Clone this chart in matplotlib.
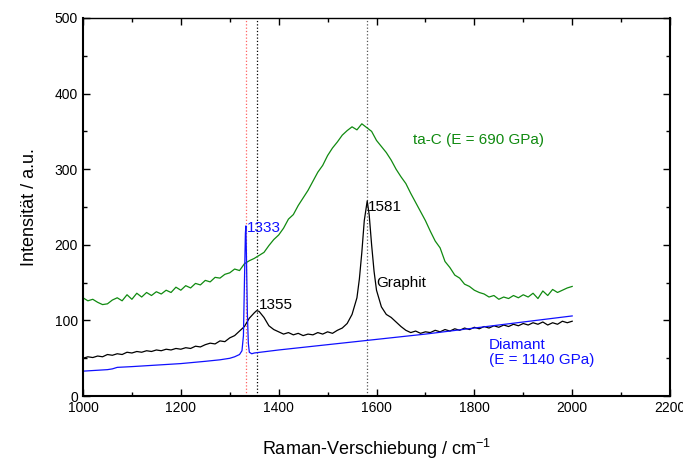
import matplotlib
matplotlib.use("Agg")
from matplotlib import pyplot as plt
from matplotlib.ticker import MultipleLocator

plt.rcParams['font.family'] = ['Liberation Sans', 'DejaVu Sans']
plt.rcParams['mathtext.fontset'] = 'custom'
plt.rcParams['mathtext.rm'] = 'Liberation Sans'
plt.rcParams['mathtext.default'] = 'regular'

# ta-C spectrum (green)
tac_x = [1000, 1010, 1020, 1030, 1040, 1050, 1060, 1070, 1080, 1090,
         1100, 1110, 1120, 1130, 1140, 1150, 1160, 1170, 1180, 1190,
         1200, 1210, 1220, 1230, 1240, 1250, 1260, 1270, 1280, 1290,
         1300, 1310, 1320, 1330, 1340, 1350, 1360, 1370, 1380, 1390,
         1400, 1410, 1420, 1430, 1440, 1450, 1460, 1470, 1480, 1490,
         1500, 1510, 1520, 1530, 1540, 1550, 1560, 1570, 1580, 1590,
         1600, 1610, 1620, 1630, 1640, 1650, 1660, 1670, 1680, 1690,
         1700, 1710, 1720, 1730, 1740, 1750, 1760, 1770, 1780, 1790,
         1800, 1810, 1820, 1830, 1840, 1850, 1860, 1870, 1880, 1890,
         1900, 1910, 1920, 1930, 1940, 1950, 1960, 1970, 1980, 1990, 2000]
tac_y = [130, 126, 128, 124, 121, 122, 127, 130, 126, 134,
         128, 136, 131, 137, 133, 138, 135, 140, 137, 144,
         140, 146, 143, 149, 147, 153, 151, 157, 156, 161,
         163, 168, 166, 175, 179, 182, 186, 190, 199, 207,
         213, 222, 234, 240, 252, 262, 272, 284, 296, 305,
         318, 328, 336, 345, 351, 356, 352, 360, 355, 350,
         338, 330, 322, 312, 300, 290, 281, 268, 256, 244,
         232, 218, 205, 196, 178, 170, 160, 156, 148, 145,
         140, 137, 135, 131, 133, 128, 131, 129, 133, 130,
         134, 131, 136, 129, 139, 133, 141, 137, 140, 143, 145]

# Graphit spectrum (black)
gra_x = [1000, 1010, 1020, 1030, 1040, 1050, 1060, 1070, 1080, 1090,
         1100, 1110, 1120, 1130, 1140, 1150, 1160, 1170, 1180, 1190,
         1200, 1210, 1220, 1230, 1240, 1250, 1260, 1270, 1280, 1290,
         1300, 1310, 1320, 1330, 1340, 1350, 1355, 1360, 1370, 1380,
         1390, 1400, 1410, 1420, 1430, 1440, 1450, 1460, 1470, 1480,
         1490, 1500, 1510, 1520, 1530, 1540, 1550, 1560, 1565, 1570,
         1575, 1581, 1585, 1590, 1595, 1600, 1610, 1620, 1630, 1640,
         1650, 1660, 1670, 1680, 1690, 1700, 1710, 1720, 1730, 1740,
         1750, 1760, 1770, 1780, 1790, 1800, 1810, 1820, 1830, 1840,
         1850, 1860, 1870, 1880, 1890, 1900, 1910, 1920, 1930, 1940,
         1950, 1960, 1970, 1980, 1990, 2000]
gra_y = [50, 52, 51, 53, 52, 55, 54, 56, 55, 58,
         57, 59, 58, 60, 59, 61, 60, 62, 61, 63,
         62, 64, 63, 66, 65, 68, 70, 69, 73, 72,
         77, 80, 86, 92, 103, 110, 113, 112, 104, 93,
         88, 85, 82, 84, 81, 83, 80, 82, 81, 84,
         82, 85, 83, 87, 90, 96, 108, 130, 155, 190,
         232, 258, 240, 200, 165, 140, 118, 108, 104, 98,
         92, 87, 84, 86, 83, 85, 84, 87, 85, 88,
         86, 89, 87, 90, 88, 91, 89, 92, 90, 93,
         91, 94, 92, 95, 93, 96, 94, 97, 95, 98,
         94, 97, 95, 99, 97, 99]

# Diamant spectrum (blue)
dia_x = [1000, 1050, 1060, 1070, 1100, 1150, 1200, 1250, 1280, 1300,
         1310, 1320, 1325, 1328, 1330, 1332, 1333, 1334, 1336, 1338,
         1340, 1345, 1350, 1400, 1500, 1600, 1700, 1800, 1900, 2000]
dia_y = [33, 35, 36, 38, 39, 41, 43, 46, 48, 50,
         52, 55, 60, 80, 150, 215, 225, 190, 110, 70,
         58, 56, 57, 61, 68, 75, 82, 90, 98, 106]

peak_lines = [1333, 1355, 1581]
peak_colors = ['#ff6060', 'black', '#555555']

fig = plt.figure(figsize=(6.83, 4.59), dpi=100)
ax = fig.add_axes([0.1215, 0.137, 0.8595, 0.824])

for xv, c in zip(peak_lines, peak_colors):
    ax.axvline(xv, color=c, linestyle=':', linewidth=0.9)

ax.plot(tac_x, tac_y, color='#108a10', linewidth=0.9)
ax.plot(gra_x, gra_y, color='black', linewidth=0.9)
ax.plot(dia_x, dia_y, color='#1010ff', linewidth=0.9)

ax.text(1334, 222, '1333', color='#1010ff', fontsize=11, va='center')
ax.text(1360, 120, '1355', color='black', fontsize=11, va='center')
ax.text(1582, 250, '1581', color='black', fontsize=11, va='center')
ax.text(1599, 150, 'Graphit', color='black', fontsize=11, va='center')
ax.text(1675, 339, 'ta-C (E = 690 GPa)', color='#108a10', fontsize=11, va='center')
ax.text(1830, 58, 'Diamant\n(E = 1140 GPa)', color='#1010ff', fontsize=11,
        va='center', linespacing=1.1)

ax.set_xlim(1000, 2200)
ax.set_ylim(0, 500)
ax.xaxis.set_major_locator(MultipleLocator(200))
ax.xaxis.set_minor_locator(MultipleLocator(100))
ax.yaxis.set_major_locator(MultipleLocator(100))
ax.yaxis.set_minor_locator(MultipleLocator(50))
ax.tick_params(which='both', direction='in', top=True, right=True, labelsize=10)
ax.tick_params(which='major', length=5, width=1)
ax.tick_params(which='minor', length=3, width=1)
for name, s in ax.spines.items():
    s.set_linewidth(1.0 if name == 'top' else 1.5)

ax.set_xlabel('Raman-Verschiebung / cm$^{-1}$', fontsize=13, labelpad=16)
ax.set_ylabel('Intensität / a.u.', fontsize=13, labelpad=12)

fig.savefig('out.png', dpi=100)
